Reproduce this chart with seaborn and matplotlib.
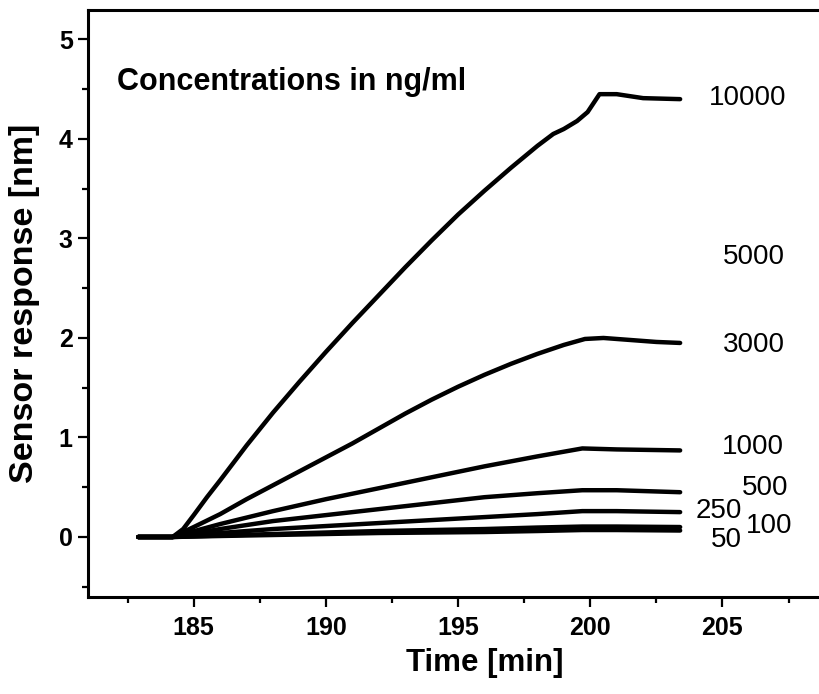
import numpy as np
import pandas as pd
import matplotlib
matplotlib.use("Agg")
import matplotlib.pyplot as plt
import seaborn as sns
from matplotlib.ticker import FixedLocator

# Sensor response traces (time in min, response in nm), one per analyte concentration
t_10000 = [182.9, 184.2, 184.6, 185.0, 185.5, 186.0, 187.0, 188.0, 189.0, 190.0, 191.0,
           192.0, 193.0, 194.0, 195.0, 196.0, 197.0, 198.0, 198.6, 199.0, 199.5, 199.9,
           200.1, 200.35, 201.0, 202.0, 203.4]
y_10000 = [0.0, 0.0, 0.08, 0.22, 0.40, 0.57, 0.92, 1.25, 1.56, 1.86, 2.15,
           2.43, 2.71, 2.98, 3.24, 3.48, 3.71, 3.93, 4.05, 4.10, 4.18, 4.27,
           4.35, 4.45, 4.45, 4.41, 4.40]

t_3000 = [182.9, 184.2, 185.0, 186.0, 187.0, 188.0, 189.0, 190.0, 191.0, 192.0, 193.0,
          194.0, 195.0, 196.0, 197.0, 198.0, 199.0, 199.8, 200.5, 201.5, 202.5, 203.4]
y_3000 = [0.0, 0.0, 0.10, 0.23, 0.38, 0.52, 0.66, 0.80, 0.94, 1.09, 1.24,
          1.38, 1.51, 1.63, 1.74, 1.84, 1.93, 1.99, 2.00, 1.98, 1.96, 1.95]

t_1000 = [182.9, 184.2, 186.0, 188.0, 190.0, 192.0, 194.0, 196.0, 198.0, 199.7, 201.0, 203.4]
y_1000 = [0.0, 0.0, 0.13, 0.26, 0.38, 0.49, 0.60, 0.71, 0.81, 0.89, 0.88, 0.87]

t_500 = [182.9, 184.2, 186.0, 188.0, 190.0, 192.0, 194.0, 196.0, 198.0, 199.7, 201.0, 203.4]
y_500 = [0.0, 0.0, 0.08, 0.16, 0.22, 0.28, 0.34, 0.40, 0.44, 0.47, 0.47, 0.45]

t_250 = [182.9, 184.2, 186.0, 188.0, 190.0, 192.0, 194.0, 196.0, 198.0, 199.7, 201.0, 203.4]
y_250 = [0.0, 0.0, 0.04, 0.08, 0.11, 0.14, 0.17, 0.20, 0.23, 0.26, 0.26, 0.25]

t_100 = [182.9, 184.2, 186.0, 188.0, 190.0, 192.0, 194.0, 196.0, 198.0, 199.7, 201.0, 203.4]
y_100 = [0.0, 0.0, 0.015, 0.03, 0.045, 0.06, 0.07, 0.08, 0.095, 0.105, 0.105, 0.10]

t_50 = [182.9, 184.2, 186.0, 188.0, 190.0, 192.0, 194.0, 196.0, 198.0, 199.7, 201.0, 203.4]
y_50 = [0.0, 0.0, 0.01, 0.02, 0.03, 0.04, 0.045, 0.05, 0.06, 0.07, 0.07, 0.065]

# Concentration labels placed at the right of the traces (x, y in data units)
label_text = ["10000", "5000", "3000", "1000", "500", "250", "100", "50"]
label_x = [205.95, 206.2, 206.2, 206.17, 206.6, 204.87, 206.76, 205.15]
label_y = [4.41, 2.81, 1.93, 0.90, 0.49, 0.26, 0.11, -0.03]

# Axis ticks
x_major = [185, 190, 195, 200, 205]
x_minor = [182.5, 187.5, 192.5, 197.5, 202.5, 207.5]
y_major = [0, 1, 2, 3, 4, 5]
y_minor = [-0.5, 0.5, 1.5, 2.5, 3.5, 4.5]

series = {
    "10000": (t_10000, y_10000),
    "3000": (t_3000, y_3000),
    "1000": (t_1000, y_1000),
    "500": (t_500, y_500),
    "250": (t_250, y_250),
    "100": (t_100, y_100),
    "50": (t_50, y_50),
}

frames = []
for name, (t, y) in series.items():
    frames.append(pd.DataFrame({"time": t, "response": y, "conc": name}))
data = pd.concat(frames, ignore_index=True)

sns.set_theme(style="ticks")
plt.rcParams["font.family"] = ["Liberation Sans", "DejaVu Sans"]
plt.rcParams["text.color"] = "black"
plt.rcParams["axes.labelcolor"] = "black"
plt.rcParams["xtick.color"] = "black"
plt.rcParams["ytick.color"] = "black"

fig = plt.figure(figsize=(8.19, 6.94), dpi=100)
ax = fig.add_axes([0.10745, 0.1402, 0.9683, 0.8460])

sns.lineplot(data=data, x="time", y="response", hue="conc", units="conc",
             estimator=None, sort=False, palette=["black"] * len(series),
             linewidth=3.2, legend=False, ax=ax)

ax.set_xlim(181, 211)
ax.set_ylim(-0.6, 5.3)

ax.xaxis.set_major_locator(FixedLocator(x_major))
ax.xaxis.set_minor_locator(FixedLocator(x_minor))
ax.yaxis.set_major_locator(FixedLocator(y_major))
ax.yaxis.set_minor_locator(FixedLocator(y_minor))

ax.tick_params(which="major", direction="out", length=7, width=1.6,
               labelsize=18, color="black", labelcolor="black")
ax.tick_params(which="minor", direction="out", length=4, width=1.6, color="black")
ax.tick_params(axis="x", which="major", pad=7)
ax.tick_params(axis="y", which="major", pad=4)
for lab in ax.get_xticklabels() + ax.get_yticklabels():
    lab.set_fontweight("bold")

for side in ["left", "bottom", "top", "right"]:
    ax.spines[side].set_linewidth(2.2)
    ax.spines[side].set_color("black")

ax.set_xlabel("Time [min]", fontsize=22.5, fontweight="bold")
ax.set_ylabel("Sensor response [nm]", fontsize=24.5, fontweight="bold")
ax.xaxis.set_label_coords(0.5, -0.087)
ax.yaxis.set_label_coords(-0.061, 0.5)

ax.text(182.08, 4.49, "Concentrations in ng/ml", fontsize=22, fontweight="bold",
        ha="left", va="baseline")

for txt, lx, ly in zip(label_text, label_x, label_y):
    ax.text(lx, ly, txt, fontsize=20, ha="center", va="center")

fig.savefig("out.png", dpi=100)
